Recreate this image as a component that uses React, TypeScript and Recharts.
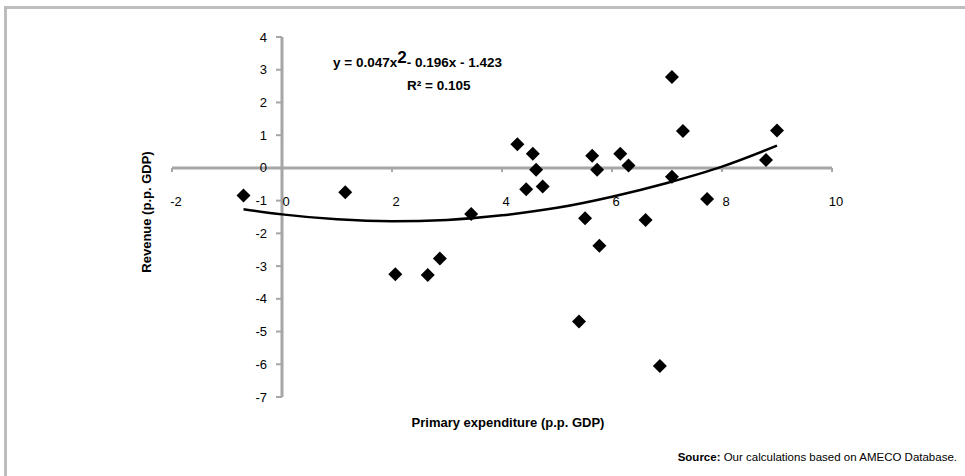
import { ComposedChart, Scatter, Line, XAxis, YAxis, ReferenceLine } from "recharts";

// country observations: primary expenditure vs revenue (p.p. GDP)
const points = [
  { x: -0.7, y: -0.84 },
  { x: 1.15, y: -0.74 },
  { x: 2.06, y: -3.25 },
  { x: 2.65, y: -3.27 },
  { x: 2.87, y: -2.77 },
  { x: 3.44, y: -1.41 },
  { x: 4.28, y: 0.72 },
  { x: 4.44, y: -0.65 },
  { x: 4.56, y: 0.43 },
  { x: 4.62, y: -0.06 },
  { x: 4.74, y: -0.57 },
  { x: 5.4, y: -4.69 },
  { x: 5.51, y: -1.54 },
  { x: 5.64, y: 0.37 },
  { x: 5.73, y: -0.06 },
  { x: 5.77, y: -2.38 },
  { x: 6.15, y: 0.43 },
  { x: 6.3, y: 0.07 },
  { x: 6.61, y: -1.59 },
  { x: 6.87, y: -6.05 },
  { x: 7.09, y: 2.78 },
  { x: 7.09, y: -0.27 },
  { x: 7.29, y: 1.13 },
  { x: 7.73, y: -0.95 },
  { x: 8.8, y: 0.24 },
  { x: 9.0, y: 1.14 },
];

// trend curve
const trend = [
  { x: -0.7, y: -1.26 },
  { x: 0, y: -1.42 },
  { x: 1, y: -1.57 },
  { x: 2, y: -1.63 },
  { x: 3, y: -1.59 },
  { x: 4, y: -1.45 },
  { x: 5, y: -1.22 },
  { x: 6, y: -0.88 },
  { x: 7, y: -0.46 },
  { x: 8, y: 0.04 },
  { x: 9, y: 0.68 },
];

const xTicks = [-2, 0, 2, 4, 6, 8, 10];
const yTicks = [-7, -6, -5, -4, -3, -2, -1, 0, 1, 2, 3, 4];

const W = 965;
const H = 476;
const AXIS = "#a6a6a6";
const FONT = "'Liberation Sans', Arial, sans-serif";

// where the axes cross (x=0 / y=0) in pixels, for tick label placement
const X0 = 282;
const Y0 = 168;

const XTick = (props: any) => {
  const { x, payload } = props;
  return (
    <g>
      <line x1={x} x2={x} y1={Y0} y2={Y0 + 4} stroke={AXIS} strokeWidth={2} />
      <text x={x + 4} y={201} textAnchor="middle" dominantBaseline="central" fontSize={13} fill="#000" fontFamily={FONT}>
        {payload.value}
      </text>
    </g>
  );
};

const YTick = (props: any) => {
  const { y, payload } = props;
  return (
    <g>
      <line x1={X0 - 6} x2={X0} y1={y} y2={y} stroke={AXIS} strokeWidth={2} />
      <text x={X0 - 15} y={y} textAnchor="end" dominantBaseline="central" fontSize={13} fill="#000" fontFamily={FONT}>
        {payload.value}
      </text>
    </g>
  );
};

const Diamond = (props: any) => {
  const { cx, cy } = props;
  const r = 7;
  return <path d={`M${cx},${cy - r}L${cx + r},${cy}L${cx},${cy + r}L${cx - r},${cy}Z`} fill="#000" />;
};

export default function App() {
  return (
    <div style={{ position: "absolute", left: 0, top: 0, width: W, height: H, overflow: "hidden", background: "#fff" }}>
      <svg width={W} height={H} style={{ position: "absolute", left: 0, top: 0 }}>
        <path d={`M5.5,${H} L5.5,7.5 L${W},7.5`} fill="none" stroke="#bdbdbd" strokeWidth={3} />
      </svg>
      <div style={{ position: "absolute", left: 0, top: 0 }}>
        <ComposedChart width={W} height={H} margin={{ top: 37, right: 133, bottom: 49, left: 132 }}>
          <XAxis
            type="number"
            dataKey="x"
            domain={[-2, 10]}
            ticks={xTicks}
            height={30}
            axisLine={false}
            tickLine={false}
            tick={<XTick />}
            allowDataOverflow
          />
          <YAxis
            type="number"
            dataKey="y"
            domain={[-7, 4]}
            ticks={yTicks}
            width={40}
            axisLine={false}
            tickLine={false}
            tick={<YTick />}
            allowDataOverflow
          />
          <ReferenceLine y={0} stroke={AXIS} strokeWidth={3} />
          <ReferenceLine x={0} stroke={AXIS} strokeWidth={3} />
          <Line
            data={trend}
            dataKey="y"
            type="monotone"
            stroke="#000"
            strokeWidth={2.5}
            dot={false}
            activeDot={false}
            isAnimationActive={false}
          />
          <Scatter data={points} dataKey="y" shape={<Diamond />} isAnimationActive={false} />
        </ComposedChart>
      </div>
      <svg width={W} height={H} style={{ position: "absolute", left: 0, top: 0, pointerEvents: "none" }}>
        <text x={333} y={67} fontSize={13.5} fontWeight="bold" fontFamily={FONT} fill="#000">
          y = 0.047x
          <tspan fontSize={17} dy={-4}>2</tspan>
          <tspan dy={4}>- 0.196x - 1.423</tspan>
        </text>
        <text x={407} y={90} fontSize={13.5} fontWeight="bold" fontFamily={FONT} fill="#000">
          R² = 0.105
        </text>
        <text
          x={146}
          y={212}
          transform="rotate(-90 146 212)"
          textAnchor="middle"
          dominantBaseline="central"
          fontSize={13}
          fontWeight="bold"
          fontFamily={FONT}
          fill="#000"
        >
          Revenue (p.p. GDP)
        </text>
        <text x={508} y={427} textAnchor="middle" fontSize={13} fontWeight="bold" fontFamily={FONT} fill="#000">
          Primary expenditure (p.p. GDP)
        </text>
        <text x={957} y={461} textAnchor="end" fontSize={11.5} fontFamily={FONT} fill="#000">
          <tspan fontWeight="bold">Source:</tspan> Our calculations based on AMECO Database.
        </text>
      </svg>
    </div>
  );
}
